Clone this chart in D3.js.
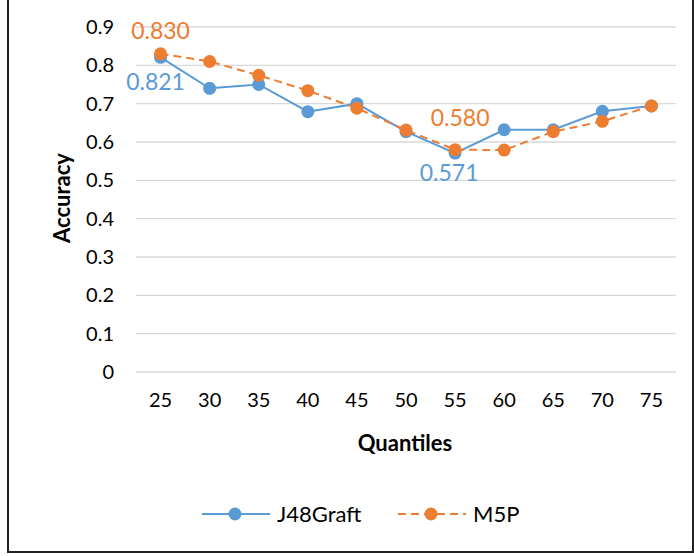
<!DOCTYPE html>
<html>
<head>
<meta charset="utf-8">
<script src="https://cdn.jsdelivr.net/npm/d3@7"></script>
<style>
  body { margin: 0; background: #fff; }
  text { font-family: Lato, "Open Sans", sans-serif; }
</style>
</head>
<body>
<div id="chart"></div>
<script>
(function() {
	var quantiles = [25, 30, 35, 40, 45, 50, 55, 60, 65, 70, 75]
	var j48graft = [0.821, 0.740, 0.750, 0.679, 0.700, 0.627, 0.571, 0.632, 0.632, 0.680, 0.694]
	var m5p = [0.830, 0.810, 0.774, 0.734, 0.688, 0.631, 0.580, 0.579, 0.627, 0.654, 0.694]
	var yTicks = [0, 0.1, 0.2, 0.3, 0.4, 0.5, 0.6, 0.7, 0.8, 0.9]
	var tickLabels = ["0", "0.1", "0.2", "0.3", "0.4", "0.5", "0.6", "0.7", "0.8", "0.9"]

	var width = 694
	var height = 556
	var blue = "#5b9bd5"
	var orange = "#ed7d31"

	var svg = d3.select("#chart")
		.append("svg")
		.attr("width", width)
		.attr("height", height)

	// outer frame
	svg.append("rect")
		.attr("x", 8)
		.attr("y", -4)
		.attr("width", 685)
		.attr("height", 556)
		.attr("fill", "none")
		.attr("stroke", "#222")
		.attr("stroke-width", 2)

	var x = d3.scaleBand()
		.domain(quantiles)
		.range([136, 676])

	var y = d3.scaleLinear()
		.domain([0, 0.9])
		.range([372, 27])

	var cx = function(d, i) { return x(quantiles[i]) + x.bandwidth() / 2 }

	// gridlines
	svg.selectAll(".grid")
		.data(yTicks)
		.enter().append("line")
		.attr("class", "grid")
		.attr("x1", 136)
		.attr("x2", 676)
		.attr("y1", function(d) { return y(d) })
		.attr("y2", function(d) { return y(d) })
		.attr("stroke", "#d9d9d9")
		.attr("stroke-width", 1.3)

	// y axis labels
	var yAxis = d3.axisLeft(y)
		.tickValues(yTicks)
		.tickFormat(function(d, i) { return tickLabels[i] })
		.tickSize(0)
		.tickPadding(0)

	svg.append("g")
		.attr("transform", "translate(114,0)")
		.call(yAxis)
		.call(function(g) { g.select(".domain").remove() })
		.selectAll("text")
		.attr("font-size", 20)
		.attr("fill", "#000")
		.style("font-family", "Lato, sans-serif")

	// x axis labels
	var xAxis = d3.axisBottom(x)
		.tickSize(0)
		.tickPadding(0)

	svg.append("g")
		.attr("transform", "translate(0,393)")
		.call(xAxis)
		.call(function(g) { g.select(".domain").remove() })
		.selectAll("text")
		.attr("font-size", 20)
		.attr("fill", "#000")
		.style("font-family", "Lato, sans-serif")

	// axis titles
	svg.append("text")
		.attr("x", 405)
		.attr("y", 451)
		.attr("text-anchor", "middle")
		.attr("font-size", 22)
		.attr("font-weight", "bold")
		.text("Quantiles")

	svg.append("text")
		.attr("transform", "translate(70,198) rotate(-90)")
		.attr("text-anchor", "middle")
		.attr("font-size", 22)
		.attr("font-weight", "bold")
		.text("Accuracy")

	var line = d3.line()
		.x(cx)
		.y(function(d) { return y(d) })

	// J48Graft
	svg.append("path")
		.datum(j48graft)
		.attr("d", line)
		.attr("fill", "none")
		.attr("stroke", blue)
		.attr("stroke-width", 2)

	svg.selectAll(".pt-j48")
		.data(j48graft)
		.enter().append("circle")
		.attr("class", "pt-j48")
		.attr("cx", cx)
		.attr("cy", function(d) { return y(d) })
		.attr("r", 6.5)
		.attr("fill", blue)

	// M5P
	svg.append("path")
		.datum(m5p)
		.attr("d", line)
		.attr("fill", "none")
		.attr("stroke", orange)
		.attr("stroke-width", 2)
		.attr("stroke-dasharray", "8,5")

	svg.selectAll(".pt-m5p")
		.data(m5p)
		.enter().append("circle")
		.attr("class", "pt-m5p")
		.attr("cx", cx)
		.attr("cy", function(d) { return y(d) })
		.attr("r", 6.5)
		.attr("fill", orange)

	// data labels
	var labels = [
		{ series: m5p, i: 0, color: orange, dy: -23 },
		{ series: j48graft, i: 0, color: blue, dy: 25, dx: -5 },
		{ series: m5p, i: 6, color: orange, dy: -32, dx: 5 },
		{ series: j48graft, i: 6, color: blue, dy: 20, dx: -6 }
	]

	svg.selectAll(".dlabel")
		.data(labels)
		.enter().append("text")
		.attr("class", "dlabel")
		.attr("x", function(d) { return cx(null, d.i) + (d.dx || 0) })
		.attr("y", function(d) { return y(d.series[d.i]) + d.dy })
		.attr("dy", "0.35em")
		.attr("text-anchor", "middle")
		.attr("font-size", 23)
		.attr("fill", function(d) { return d.color })
		.text(function(d) { return d.series[d.i].toFixed(3) })

	// legend
	var legend = [
		{ name: "J48Graft", color: blue, dash: null, x: 202 },
		{ name: "M5P", color: orange, dash: "8,5", x: 398 }
	]

	var lg = svg.selectAll(".legend")
		.data(legend)
		.enter().append("g")
		.attr("class", "legend")
		.attr("transform", function(d) { return "translate(" + d.x + ",514)" })

	lg.append("line")
		.attr("x1", 0)
		.attr("x2", 68)
		.attr("stroke", function(d) { return d.color })
		.attr("stroke-width", 2)
		.attr("stroke-dasharray", function(d) { return d.dash })

	lg.append("circle")
		.attr("cx", 33)
		.attr("r", 6.5)
		.attr("fill", function(d) { return d.color })

	lg.append("text")
		.attr("x", 75)
		.attr("dy", "0.35em")
		.attr("font-size", 22)
		.text(function(d) { return d.name })

})();
</script>
</body>
</html>
